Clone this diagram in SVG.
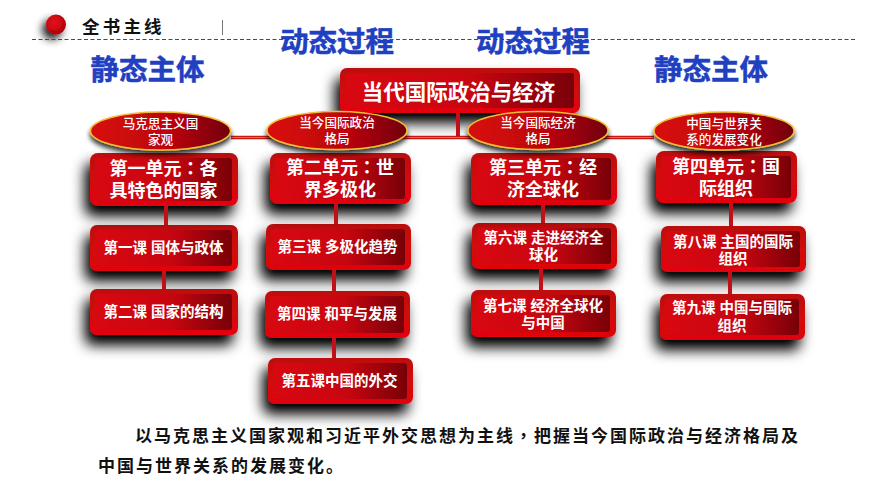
<svg xmlns="http://www.w3.org/2000/svg" width="870" height="489" viewBox="0 0 870 489">
<defs>
<linearGradient id="inner" x1="0" y1="0" x2="1" y2="0"><stop offset="0" stop-color="#d80810"/><stop offset="0.55" stop-color="#c80610"/><stop offset="1" stop-color="#780008"/></linearGradient>
<linearGradient id="outer" x1="0" y1="0" x2="0" y2="1"><stop offset="0" stop-color="#bc0810"/><stop offset="1" stop-color="#e4060e"/></linearGradient>
<linearGradient id="ell" x1="0" y1="0" x2="1" y2="0"><stop offset="0" stop-color="#d80810"/><stop offset="0.55" stop-color="#c00610"/><stop offset="1" stop-color="#700006"/></linearGradient>
<radialGradient id="ball" cx="0.4" cy="0.4" r="0.7"><stop offset="0" stop-color="#e8101a"/><stop offset="1" stop-color="#a80008"/></radialGradient>
<filter id="sh" x="-25%" y="-40%" width="150%" height="230%"><feGaussianBlur in="SourceAlpha" stdDeviation="7"/><feOffset dx="-5" dy="10"/><feComponentTransfer><feFuncA type="linear" slope="1.05"/></feComponentTransfer><feMerge><feMergeNode/><feMergeNode in="SourceGraphic"/></feMerge></filter>
<filter id="she" x="-10%" y="-20%" width="120%" height="160%"><feGaussianBlur in="SourceAlpha" stdDeviation="2.500"/><feOffset dx="0" dy="4"/><feComponentTransfer><feFuncA type="linear" slope="0.8"/></feComponentTransfer><feMerge><feMergeNode/><feMergeNode in="SourceGraphic"/></feMerge></filter>
<filter id="shb" x="-100%" y="-100%" width="300%" height="300%"><feGaussianBlur in="SourceAlpha" stdDeviation="4"/><feOffset dx="-4" dy="5"/><feComponentTransfer><feFuncA type="linear" slope="0.9"/></feComponentTransfer><feMerge><feMergeNode/><feMergeNode in="SourceGraphic"/></feMerge></filter>
</defs>
<style>
text{font-family:"Liberation Sans","Noto Sans CJK SC",sans-serif;text-anchor:middle}
.cc{font-family:"Noto Sans CJK TC",sans-serif}
.o{fill:url(#outer)}
.i{fill:url(#inner)}
.b{filter:url(#sh)}
.e{fill:url(#ell);stroke:#f0bc30;stroke-width:1.5;filter:url(#she)}
.tb{fill:#1f40c0;font-size:28.500px;font-weight:700;stroke:#1f40c0;stroke-width:.5}
.tr{fill:#fff;font-size:21.500px;font-weight:700}
.tu{fill:#fff;font-size:18px;font-weight:700}
.tl{fill:#fff;font-size:14.500px;font-weight:700}
.te{fill:#fff;font-size:12.600px;font-weight:500}
.tp{fill:#111;font-size:17px;font-weight:700;text-anchor:start;letter-spacing:2px}
.c{stroke:#c0101a;stroke-width:4;fill:none}
</style>
<rect width="870" height="489" fill="#fff"/>
<g id="header">
<circle cx="56" cy="24.500" r="10" fill="url(#ball)" filter="url(#shb)"/>
<text x="82" y="33" style="text-anchor:start;font-size:17.500px;font-weight:700;letter-spacing:3.200px" fill="#111">全书主线</text>
<line x1="222.500" y1="20" x2="222.500" y2="35" stroke="#777" stroke-width="1"/>
<line x1="32" y1="39.500" x2="855" y2="39.500" stroke="#a82030" stroke-width="1" stroke-dasharray="4 2.500"/>
</g>
<g id="label-dyn-1"><text x="337" y="52" class="tb">动态过程</text></g>
<g id="label-dyn-2"><text x="533" y="52" class="tb">动态过程</text></g>
<g id="label-sta-1"><text x="147.500" y="80" class="tb">静态主体</text></g>
<g id="label-sta-2"><text x="711" y="80" class="tb">静态主体</text></g>
<g id="root"><g class="b"><rect x="340" y="68" width="240" height="45" rx="7" class="o"/></g><rect x="346" y="73" width="228" height="35" rx="3" class="i"/><text x="458.500" y="99.500" class="tr">当代国际政治与经济</text></g>
<g id="lesson-1"><g class="b"><rect x="90" y="225" width="148" height="46" rx="7" class="o"/></g><rect x="95" y="230" width="137" height="36" rx="3" class="i"/><text x="163.500" y="253" class="tl">第一课 国体与政体</text></g>
<g id="lesson-2"><g class="b"><rect x="90" y="289" width="148" height="46" rx="7" class="o"/></g><rect x="95" y="294" width="137" height="36" rx="3" class="i"/><text x="163.500" y="317" class="tl">第二课 国家的结构</text></g>
<g id="lesson-3"><g class="b"><rect x="266" y="224" width="145" height="46" rx="7" class="o"/></g><rect x="271" y="229" width="134" height="36" rx="3" class="i"/><text x="337.500" y="252" class="tl">第三课 多极化趋势</text></g>
<g id="lesson-4"><g class="b"><rect x="265" y="291" width="145" height="47" rx="7" class="o"/></g><rect x="270" y="296" width="134" height="37" rx="3" class="i"/><text x="337" y="319" class="tl">第四课 和平与发展</text></g>
<g id="lesson-5"><g class="b"><rect x="268" y="358" width="145" height="46" rx="7" class="o"/></g><rect x="273" y="363" width="134" height="36" rx="3" class="i"/><text x="339.500" y="386" class="tl">第五课中国的外交</text></g>
<g id="lesson-6"><g class="b"><rect x="472" y="223" width="145" height="46" rx="7" class="o"/></g><rect x="477" y="228" width="134" height="36" rx="3" class="i"/><text x="543.500" y="243" class="tl">第六课 走进经济全</text><text x="543.500" y="260" class="tl">球化</text></g>
<g id="lesson-7"><g class="b"><rect x="471" y="290" width="145" height="47" rx="7" class="o"/></g><rect x="476" y="295" width="134" height="37" rx="3" class="i"/><text x="543" y="311" class="tl">第七课 经济全球化</text><text x="543" y="328" class="tl">与中国</text></g>
<g id="lesson-8"><g class="b"><rect x="661" y="226" width="145" height="46" rx="7" class="o"/></g><rect x="666" y="231" width="134" height="36" rx="3" class="i"/><text x="733" y="247" class="tl">第八课 主国的国际</text><text x="733" y="264" class="tl">组织</text></g>
<g id="lesson-9"><g class="b"><rect x="660" y="294" width="145" height="46" rx="7" class="o"/></g><rect x="665" y="299" width="134" height="36" rx="3" class="i"/><text x="732" y="313" class="tl">第九课 中国与国际</text><text x="732" y="331" class="tl">组织</text></g>
<g id="unit-1"><g class="b"><rect x="90" y="153" width="148" height="53" rx="8" class="o"/></g><rect x="95" y="158" width="137" height="43" rx="3" class="i"/><text x="163.500" y="175" class="tu">第一单元<tspan class="cc">：</tspan>各</text><text x="163.500" y="197" class="tu">具特色的国家</text></g>
<g id="unit-2"><g class="b"><rect x="270" y="153" width="141" height="51" rx="8" class="o"/></g><rect x="275" y="158" width="130" height="41" rx="3" class="i"/><text x="340" y="173.500" class="tu">第二单元<tspan class="cc">：</tspan>世</text><text x="340" y="196" class="tu">界多极化</text></g>
<g id="unit-3"><g class="b"><rect x="471" y="153" width="146" height="52" rx="8" class="o"/></g><rect x="476" y="158" width="135" height="42" rx="3" class="i"/><text x="543" y="174" class="tu">第三单元<tspan class="cc">：</tspan>经</text><text x="543" y="196" class="tu">济全球化</text></g>
<g id="unit-4"><g class="b"><rect x="656" y="151" width="141" height="52" rx="8" class="o"/></g><rect x="661" y="156" width="130" height="42" rx="3" class="i"/><text x="726" y="172.500" class="tu">第四单元<tspan class="cc">：</tspan>国</text><text x="726" y="195" class="tu">际组织</text></g>
<g id="connectors">
<line x1="231" y1="137.500" x2="654" y2="137.500" stroke="#c81810" stroke-width="3.500"/>
<line x1="231" y1="137.500" x2="654" y2="137.500" stroke="#f06a30" stroke-width="1"/>
<line x1="458" y1="113" x2="458" y2="137" class="c"/>
<line x1="166" y1="206" x2="166" y2="225" class="c"/>
<line x1="164" y1="271" x2="164" y2="289" class="c"/>
<line x1="336" y1="204" x2="336" y2="224" class="c"/>
<line x1="334" y1="270" x2="334" y2="291" class="c"/>
<line x1="334" y1="338" x2="334" y2="358" class="c"/>
<line x1="543" y1="205" x2="543" y2="223" class="c"/>
<line x1="541" y1="269" x2="541" y2="290" class="c"/>
<line x1="731" y1="203" x2="731" y2="226" class="c"/>
<line x1="730" y1="272" x2="730" y2="294" class="c"/>
</g>
<g id="ell-1"><ellipse cx="160.500" cy="131" rx="70" ry="19" class="e"/><text x="160.500" y="128" class="te">马克思主义国</text><text x="160.500" y="144" class="te">家观</text></g>
<g id="ell-2"><ellipse cx="337" cy="130.500" rx="70" ry="19" class="e"/><text x="337" y="127" class="te">当今国际政治</text><text x="337" y="143" class="te">格局</text></g>
<g id="ell-3"><ellipse cx="538" cy="130.500" rx="70" ry="19" class="e"/><text x="538" y="127" class="te">当今国际经济</text><text x="538" y="143" class="te">格局</text></g>
<g id="ell-4"><ellipse cx="724" cy="131" rx="70" ry="19" class="e"/><text x="724" y="128" class="te">中国与世界关</text><text x="724" y="143.500" class="te">系的发展变化</text></g>
<g id="paragraph"><text x="135" y="442" class="tp">以马克思主义国家观和习近平外交思想为主线<tspan class="cc">，</tspan>把握当今国际政治与经济格局及</text><text x="98" y="472" class="tp">中国与世界关系的发展变化。</text></g>
</svg>
